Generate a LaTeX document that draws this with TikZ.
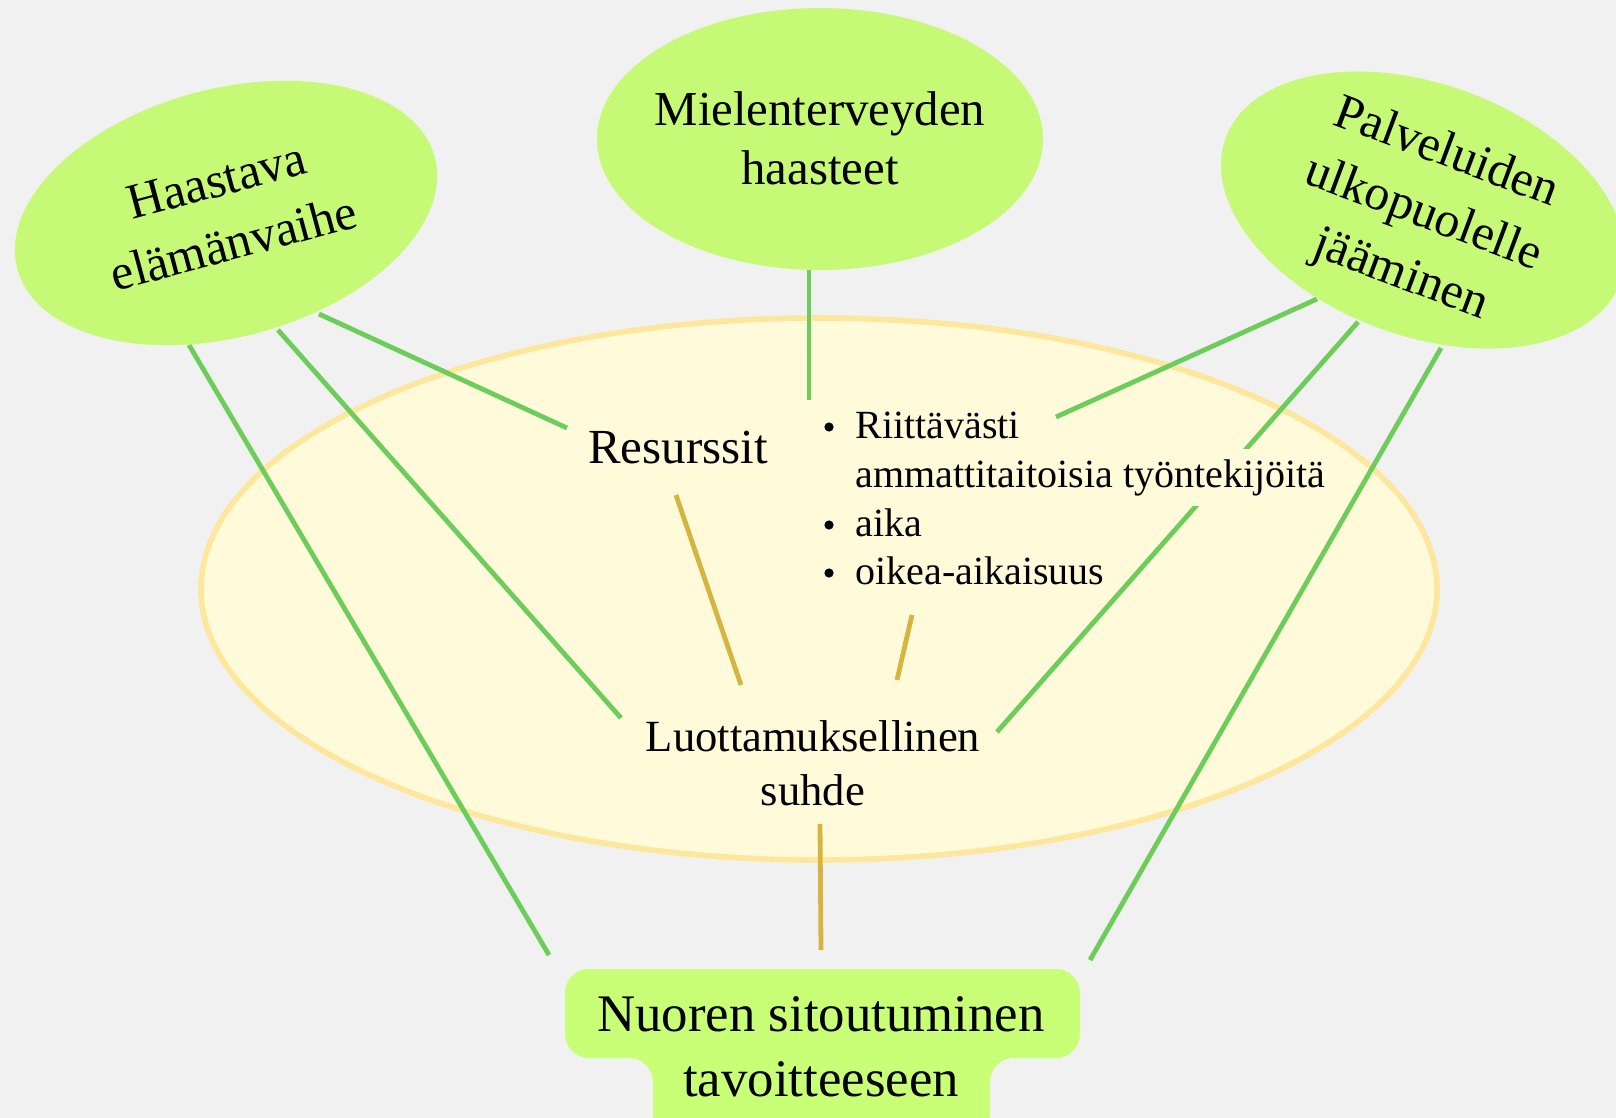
\documentclass[tikz,border=0pt]{standalone}
\usepackage{fontspec}
\setmainfont{Liberation Serif}
\usetikzlibrary{shapes.geometric}
\definecolor{bg}{RGB}{241,241,241}
\definecolor{lime}{RGB}{198,249,118}
\definecolor{limebox}{RGB}{200,255,118}
\definecolor{pale}{RGB}{254,250,218}
\definecolor{paleedge}{RGB}{252,231,156}
\definecolor{gline}{RGB}{108,205,90}
\definecolor{yline}{RGB}{214,180,64}
\begin{document}
\begin{tikzpicture}[x=0.5pt,y=-0.5pt,
  blob/.style={ellipse, fill=lime, inner sep=0pt, outer sep=0pt},
  gl/.style={draw=gline, line width=2.4pt},
  yl/.style={draw=yline, line width=2.4pt},
  lbl/.style={align=center, inner sep=0pt},
  item/.style={anchor=base west, inner sep=0pt, font=\fontsize{20}{24}\selectfont},
  bul/.style={circle, fill=black, inner sep=0pt, minimum size=4.6pt},
]
\fill[bg] (0,0) rectangle (1616,1118);
\useasboundingbox (0,0) rectangle (1616,1118);
% central ellipse
\node[ellipse, fill=pale, draw=paleedge, line width=2.8pt, inner sep=0pt,
      minimum width=618pt, minimum height=271pt] (core) at (819,589) {};
% connector end points
\coordinate (g1a) at (319,314);  \coordinate (g1b) at (567,428);
\coordinate (g2a) at (278,330);  \coordinate (g2b) at (621,718);
\coordinate (g3a) at (189,345);  \coordinate (g3b) at (549,955);
\coordinate (g4a) at (809,270);  \coordinate (g4b) at (809,400);
\coordinate (g5a) at (1317,299); \coordinate (g5b) at (1056,417);
\coordinate (g6a) at (1358,322); \coordinate (g6b) at (997,732);
\coordinate (g7a) at (1441,348); \coordinate (g7b) at (1090,960);
\coordinate (y1a) at (676,495);  \coordinate (y1b) at (741,685);
\coordinate (y2a) at (912,615);  \coordinate (y2b) at (897,680);
\coordinate (y3a) at (820,824);  \coordinate (y3b) at (821,950);
% green connectors
\draw[gl] (g1a) -- (g1b);
\draw[gl] (g2a) -- (g2b);
\draw[gl] (g3a) -- (g3b);
\draw[gl] (g4a) -- (g4b);
\draw[gl] (g5a) -- (g5b);
\draw[gl] (g6a) -- (g6b);
\draw[gl] (g7a) -- (g7b);
% yellow connectors
\draw[yl] (y1a) -- (y1b);
\draw[yl] (y2a) -- (y2b);
\draw[yl] (y3a) -- (y3b);
% green ellipses
\node[blob, rotate=15, minimum width=216pt, minimum height=124pt] (left) at (226,213) {};
\node[blob, minimum width=223pt, minimum height=131pt] (mid) at (820,139) {};
\node[blob, rotate=-20, minimum width=210pt, minimum height=126pt] (right) at (1423,210) {};
% goal box
\fill[limebox, rounded corners=12pt] (565,969) -- (1080,969) -- (1080,1058) -- (990,1058)
  -- (990,1140) -- (653,1140) -- (653,1058) -- (565,1058) -- cycle;
% texts
\node[lbl, font=\fontsize{24.4}{29.5}\selectfont] (midt) at (820,138) {Mielenterveyden\\haasteet};
\node[lbl, rotate=15, font=\fontsize{25}{32.5}\selectfont] (leftt) at (225,212) {Haastava\\elämänvaihe};
\node[lbl, rotate=-20.5, font=\fontsize{24.9}{32.5}\selectfont] (rightt) at (1423,215) {Palveluiden\\ulkopuolelle\\jääminen};
\node[inner sep=0pt, font=\fontsize{24.5}{29}\selectfont] (res) at (678,448) {Resurssit};
\node[bul] (b1) at (829,427) {};
\node[item] (r1) at (855,438) {Riittävästi};
\node[item, fill=pale, inner ysep=5pt] (r2) at (855,487) {ammattitaitoisia työntekijöitä};
\node[bul] (b3) at (829,525) {};
\node[item] (r3) at (855,536) {aika};
\node[bul] (b4) at (829,573) {};
\node[item] (r4) at (855,584) {oikea-aikaisuus};
\node[lbl, font=\fontsize{22.3}{27}\selectfont] (luo) at (813,763) {Luottamuksellinen\\suhde};
\node[lbl, font=\fontsize{26.4}{32.5}\selectfont] (goal) at (821,1047) {Nuoren sitoutuminen\\tavoitteeseen};
\end{tikzpicture}
\end{document}
